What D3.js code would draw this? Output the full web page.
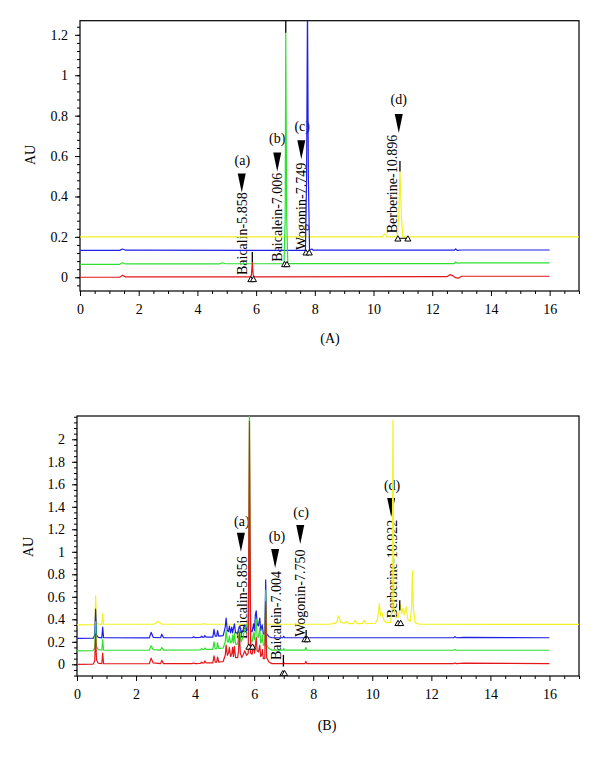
<!DOCTYPE html>
<html>
<head>
<meta charset="utf-8">
<script src="https://cdn.jsdelivr.net/npm/d3@7"></script>
<style>
  body { margin: 0; background: #fff; }
  svg { display: block; }
</style>
</head>
<body>
<div id="chart"></div>
<script>
// Colours of the four traces
const colors = { red: "#e4171b", green: "#2fe02f", blue: "#1f1fe6", yellow: "#f2f21f" };

// Axis ticks
const xTicks = [0, 2, 4, 6, 8, 10, 12, 14, 16];
const yTicksA = [0, 0.2, 0.4, 0.6, 0.8, 1, 1.2];
const yTicksB = [0, 0.2, 0.4, 0.6, 0.8, 1, 1.2, 1.4, 1.6, 1.8, 2];

// Panel (A) traces: [time (min), AU]
const redA = [[0,0],[1.35,0],[1.45,0.01],[1.55,0.002],[5.8,0.002],[5.84,0.01],[5.87,0.075],[5.9,0.01],[5.95,0.002],
  [12.5,0.003],[12.6,0.013],[12.7,0.008],[12.8,-0.002],[12.9,-0.004],[13,0.005],[16,0.005]];
const greenA = [[0,0.064],[1.35,0.064],[1.45,0.072],[1.55,0.066],[4.75,0.066],[4.85,0.072],[4.95,0.067],[6.95,0.067],
  [6.99,0.3],[7.01,1.21],[7.04,0.3],[7.08,0.068],[12.75,0.068],[12.8,0.076],[12.85,0.07],[13,0.071],[16,0.071]];
const blueA = [[0,0.133],[1.35,0.133],[1.45,0.14],[1.55,0.134],[7.68,0.133],[7.72,0.5],[7.75,1.35],[7.78,0.5],[7.82,0.134],
  [7.9,0.14],[7.95,0.134],[12.75,0.134],[12.8,0.14],[12.85,0.133],[13,0.135],[16,0.135]];
const yellowA = [[0,0.2],[10.3,0.2],[10.38,0.215],[10.45,0.2],[10.8,0.2],[10.86,0.3],[10.9,0.523],[10.95,0.3],[11,0.2],[17,0.2]];

// Panel (B) traces
const redB = [[0,0],[0.55,0.002],[0.6,0.03],[0.63,0.27],[0.66,0.04],[0.72,0.01],[0.84,0.005],[0.87,0.1],[0.9,0.006],
  [2.45,0.005],[2.51,0.055],[2.58,0.012],[2.83,0.006],[2.87,0.035],[2.93,0.006],
  [3.9,0.006],[3.95,0.012],[4,0.006],[4.18,0.008],[4.22,0.02],[4.26,0.01],[4.3,0.012],[4.33,0.03],[4.37,0.012],
  [4.6,0.012],[4.64,0.075],[4.68,0.02],[4.73,0.02],[4.76,0.065],[4.8,0.02],
  [4.95,0.025],[5.02,0.08],[5.05,0.17],[5.09,0.08],[5.13,0.1],[5.16,0.15],[5.2,0.07],[5.24,0.09],[5.27,0.15],[5.3,0.07],[5.33,0.16],[5.37,0.06],
  [5.44,0.06],[5.47,0.12],[5.5,0.28],[5.53,0.1],[5.58,0.06],[5.64,0.09],[5.68,0.12],[5.74,0.08],[5.8,0.1],[5.84,2.16],[5.88,0.1],
  [5.93,0.09],[5.98,0.17],[6.01,0.1],[6.04,0.16],[6.07,0.24],[6.1,0.12],[6.15,0.11],[6.19,0.17],[6.22,0.07],[6.25,0.08],[6.28,0.13],
  [6.31,0.05],[6.36,0.05],[6.39,0.556],[6.42,0.06],[6.5,0.02],[6.6,0.006],
  [6.97,0.006],[7,0.015],[7.03,0.006],[7.72,0.006],[7.75,0.025],[7.78,0.006],
  [12.75,0.006],[12.8,0.012],[12.85,0.006],[13.1,0.01],[16,0.006]];
const greenB = [[0,0.12],[0.55,0.122],[0.6,0.15],[0.63,0.38],[0.66,0.16],[0.72,0.13],[0.84,0.125],[0.87,0.22],[0.9,0.126],
  [2.45,0.125],[2.51,0.165],[2.58,0.13],[2.83,0.126],[2.87,0.15],[2.93,0.126],
  [4.18,0.128],[4.22,0.14],[4.26,0.13],[4.3,0.132],[4.33,0.145],[4.37,0.132],
  [4.6,0.132],[4.64,0.2],[4.68,0.14],[4.73,0.14],[4.76,0.19],[4.8,0.14],
  [4.95,0.145],[5.02,0.2],[5.05,0.3],[5.09,0.2],[5.13,0.2],[5.16,0.25],[5.2,0.19],[5.24,0.2],[5.27,0.26],[5.3,0.19],[5.33,0.28],[5.37,0.18],
  [5.44,0.18],[5.5,0.3],[5.56,0.2],[5.62,0.24],[5.7,0.33],[5.75,0.35],[5.8,0.3],[5.84,2.25],[5.88,0.22],
  [5.93,0.2],[5.98,0.28],[6.01,0.22],[6.04,0.3],[6.07,0.4],[6.1,0.25],[6.14,0.24],[6.19,0.32],[6.22,0.19],[6.25,0.2],[6.28,0.26],
  [6.31,0.17],[6.36,0.17],[6.39,0.66],[6.42,0.17],[6.5,0.14],[6.6,0.126],
  [6.97,0.126],[7,0.14],[7.03,0.126],[7.72,0.126],[7.75,0.15],[7.78,0.126],
  [12.75,0.125],[12.8,0.132],[12.85,0.125],[16,0.125]];
const blueB = [[0,0.23],[0.55,0.232],[0.6,0.26],[0.63,0.49],[0.66,0.26],[0.72,0.24],[0.84,0.235],[0.87,0.33],[0.9,0.236],
  [2.45,0.235],[2.51,0.284],[2.58,0.24],[2.83,0.236],[2.87,0.267],[2.93,0.236],
  [3.9,0.236],[3.95,0.245],[4,0.237],[4.18,0.238],[4.22,0.25],[4.26,0.24],[4.3,0.242],[4.33,0.255],[4.37,0.242],
  [4.6,0.242],[4.64,0.31],[4.68,0.25],[4.73,0.25],[4.76,0.3],[4.8,0.25],
  [4.95,0.255],[5.02,0.33],[5.05,0.41],[5.09,0.3],[5.13,0.29],[5.16,0.34],[5.2,0.28],[5.24,0.33],[5.27,0.28],[5.33,0.36],[5.37,0.28],
  [5.44,0.28],[5.5,0.34],[5.56,0.29],[5.62,0.3],[5.68,0.35],[5.74,0.3],[5.8,0.32],[5.84,1.2],[5.88,0.3],
  [5.93,0.29],[5.98,0.36],[6.01,0.3],[6.04,0.44],[6.07,0.476],[6.1,0.36],[6.14,0.34],[6.19,0.41],[6.22,0.3],[6.27,0.35],
  [6.31,0.27],[6.36,0.27],[6.39,0.75],[6.42,0.27],[6.5,0.245],[6.6,0.236],
  [6.97,0.236],[7,0.25],[7.03,0.236],[7.72,0.236],[7.75,0.245],[7.78,0.236],
  [12.75,0.236],[12.8,0.245],[12.85,0.236],[13.1,0.24],[16,0.236]];
const yellowB = [[0,0.35],[0.58,0.352],[0.61,0.37],[0.63,0.61],[0.66,0.37],[0.72,0.356],[0.84,0.355],[0.87,0.45],[0.9,0.356],
  [2.6,0.356],[2.68,0.37],[2.74,0.38],[2.8,0.368],[2.88,0.357],[4.25,0.356],[4.3,0.362],[4.35,0.356],
  [8.5,0.356],[8.65,0.36],[8.7,0.37],[8.75,0.362],[8.8,0.38],[8.86,0.43],[8.93,0.375],[9.05,0.365],[9.14,0.38],[9.2,0.362],
  [9.35,0.362],[9.42,0.39],[9.48,0.362],[9.66,0.362],[9.73,0.39],[9.79,0.362],[10.1,0.365],[10.18,0.4],[10.24,0.54],[10.28,0.43],
  [10.33,0.46],[10.38,0.4],[10.43,0.38],[10.5,0.37],[10.62,0.37],[10.67,0.5],[10.7,2.17],[10.73,0.5],[10.8,0.42],[10.88,0.42],
  [10.95,0.53],[10.99,0.45],[11.04,0.5],[11.08,0.44],[11.15,0.51],[11.2,0.4],[11.28,0.38],[11.33,0.5],[11.36,0.83],[11.39,0.5],
  [11.45,0.37],[11.6,0.356],[17,0.355]];

// Peak labels: tag, text, text x, text bottom, arrow x, arrow tip, tag x, tag centre
const peaksA = [
  { tag: "(a)", text: "Baicalin-5.858",   tx: 5.51,  ty: 0.011, ax: 5.51,  ay: 0.419, gx: 5.53,  gy: 0.581 },
  { tag: "(b)", text: "Baicalein-7.006",  tx: 6.72,  ty: 0.077, ax: 6.72,  ay: 0.523, gx: 6.72,  gy: 0.691 },
  { tag: "(c)", text: "Wogonin-7.749",    tx: 7.52,  ty: 0.135, ax: 7.54,  ay: 0.584, gx: 7.57,  gy: 0.749 },
  { tag: "(d)", text: "Berberine-10.896", tx: 10.63, ty: 0.218, ax: 10.86, ay: 0.714, gx: 10.86, gy: 0.881 }
];
const peaksB = [
  { tag: "(a)", text: "Baicalin-5.856",   tx: 5.58,  ty: 0.225, ax: 5.55,  ay: 1.0,   gx: 5.58,  gy: 1.27 },
  { tag: "(b)", text: "Baicalein-7.004",  tx: 6.75,  ty: 0.038, ax: 6.71,  ay: 0.856, gx: 6.77,  gy: 1.14 },
  { tag: "(c)", text: "Wogonin-7.750",    tx: 7.54,  ty: 0.245, ax: 7.56,  ay: 1.07,  gx: 7.59,  gy: 1.356 },
  { tag: "(d)", text: "Berberine-10.922", tx: 10.67, ty: 0.41,  ax: 10.64, ay: 1.31,  gx: 10.67, gy: 1.594 }
];

// Integration marks: apex lines [t, v0, v1] and baseline triangles [t1, t2, v]
const apexA = [[5.87, 0.075, 0.125], [7.01, 1.21, 1.27], [10.9, 0.523, 0.576]];
const baseA = [[5.82, 5.91, -0.013], [6.97, 7.05, 0.061], [7.7, 7.81, 0.119], [10.83, 11.17, 0.188]];
const apexB = [[6.99, -0.02, 0.083], [7.76, 0.231, 0.305], [10.93, 0.48, 0.57]];
const baseB = [[5.82, 5.94, 0.15], [6.97, 7.03, -0.086], [7.72, 7.8, 0.216], [10.87, 10.96, 0.36]];

const W = 600, H = 783;
const font = "'Liberation Serif', 'Times New Roman', serif";

const svg = d3.select("#chart").append("svg")
  .attr("width", W).attr("height", H)
  .style("background", "#fff");

function drawPanel(p) {
  const x = d3.scaleLinear().domain([0, 17]).range(p.xr);
  const y = d3.scaleLinear().domain(p.yd).range(p.yr);
  const g = svg.append("g");

  const clipId = "clip" + p.id;
  g.append("clipPath").attr("id", clipId)
    .append("rect")
    .attr("x", p.xr[0]).attr("y", p.yr[1])
    .attr("width", p.xr[1] - p.xr[0]).attr("height", p.yr[0] - p.yr[1]);

  // Frame (top + right)
  g.append("rect")
    .attr("x", p.xr[0]).attr("y", p.yr[1])
    .attr("width", p.xr[1] - p.xr[0]).attr("height", p.yr[0] - p.yr[1])
    .attr("fill", "none").attr("stroke", "#000").attr("stroke-width", 1.2);

  const fmt = d => d3.format("~g")(d);

  // X axis
  const xMinor = d3.range(0, 17.01, 0.5).filter(v => v % 2 !== 0);
  g.append("g").attr("transform", `translate(0,${p.yr[0]})`)
    .call(d3.axisBottom(x).tickValues(xMinor).tickSize(3).tickSizeOuter(0).tickFormat(""))
    .call(s => s.select(".domain").remove());
  g.append("g").attr("transform", `translate(0,${p.yr[0]})`)
    .call(d3.axisBottom(x).tickValues(xTicks).tickSize(5).tickPadding(8).tickSizeOuter(0).tickFormat(fmt))
    .call(s => s.select(".domain").remove())
    .call(s => s.selectAll("text").attr("font-family", font).attr("font-size", 14).attr("fill", "#000"));

  // Y axis
  const yMinorAll = d3.range(Math.ceil(p.yd[0] / p.yMinorStep), Math.floor(p.yd[1] / p.yMinorStep) + 1)
    .map(i => +(i * p.yMinorStep).toFixed(3));
  g.append("g").attr("transform", `translate(${p.xr[0]},0)`)
    .call(d3.axisLeft(y).tickValues(yMinorAll).tickSize(3).tickSizeOuter(0).tickFormat(""))
    .call(s => s.select(".domain").remove());
  g.append("g").attr("transform", `translate(${p.xr[0]},0)`)
    .call(d3.axisLeft(y).tickValues(p.yTicks).tickSize(5).tickPadding(7).tickSizeOuter(0).tickFormat(fmt))
    .call(s => s.select(".domain").remove())
    .call(s => s.selectAll("text").attr("font-family", font).attr("font-size", 14).attr("fill", "#000"));

  // AU label
  g.append("text")
    .attr("transform", `translate(${p.auX},${p.auY}) rotate(-90)`)
    .attr("text-anchor", "middle").attr("dy", "0.35em")
    .attr("font-family", font).attr("font-size", 14)
    .text("AU");

  // Panel caption
  g.append("text")
    .attr("x", p.capX).attr("y", p.capY)
    .attr("text-anchor", "middle").attr("dy", "0.35em")
    .attr("font-family", font).attr("font-size", 14)
    .text(p.caption);

  // Peak annotations (under the traces)
  const ann = g.append("g");
  p.peaks.forEach(d => {
    ann.append("text")
      .attr("transform", `translate(${x(d.tx)},${y(d.ty)}) rotate(-90)`)
      .attr("dy", "0.35em")
      .attr("font-family", font).attr("font-size", 14)
      .text(d.text);
    const ax = x(d.ax), ay = y(d.ay);
    ann.append("path")
      .attr("d", `M${ax - 4},${ay - 19}L${ax + 4},${ay - 19}L${ax},${ay}Z`)
      .attr("fill", "#000");
    ann.append("text")
      .attr("x", x(d.gx)).attr("y", y(d.gy))
      .attr("text-anchor", "middle").attr("dy", "0.35em")
      .attr("font-family", font).attr("font-size", 14)
      .text(d.tag);
  });

  // Traces
  const line = d3.line().x(d => x(d[0])).y(d => y(d[1]));
  const traces = g.append("g").attr("clip-path", `url(#${clipId})`);
  p.series.forEach(s => {
    traces.append("path")
      .datum(s.data)
      .attr("fill", "none")
      .attr("stroke", s.color)
      .attr("stroke-width", 1.2)
      .attr("stroke-linejoin", "round")
      .attr("d", line);
  });

  // Integration marks
  const marks = g.append("g").attr("clip-path", `url(#${clipId})`);
  p.apex.forEach(d => {
    marks.append("line")
      .attr("x1", x(d[0])).attr("x2", x(d[0]))
      .attr("y1", y(d[1])).attr("y2", y(d[2]))
      .attr("stroke", "#000").attr("stroke-width", 1.3);
  });
  const tri = d3.symbol(d3.symbolTriangle).size(16);
  p.base.forEach(d => {
    marks.append("line")
      .attr("x1", x(d[0])).attr("x2", x(d[1]))
      .attr("y1", y(d[2]) - 1).attr("y2", y(d[2]) - 1)
      .attr("stroke", "#000").attr("stroke-width", 1);
    [d[0], d[1]].forEach(t => {
      marks.append("path")
        .attr("d", tri())
        .attr("transform", `translate(${x(t)},${y(d[2])})`)
        .attr("fill", "#fff").attr("stroke", "#000").attr("stroke-width", 1);
    });
  });
}

drawPanel({
  id: "A", xr: [80, 579], yd: [-0.068, 1.27], yr: [291, 20.7],
  yTicks: yTicksA, yMinorStep: 0.04,
  auX: 30, auY: 155, capX: 330, capY: 338, caption: "(A)",
  series: [
    { color: colors.yellow, data: yellowA },
    { color: colors.blue, data: blueA },
    { color: colors.green, data: greenA },
    { color: colors.red, data: redA }
  ],
  peaks: peaksA, apex: apexA, base: baseA
});

drawPanel({
  id: "B", xr: [77, 579], yd: [-0.104, 2.207], yr: [676, 416],
  yTicks: yTicksB, yMinorStep: 0.05,
  auX: 28, auY: 547, capX: 327, capY: 725, caption: "(B)",
  series: [
    { color: colors.yellow, data: yellowB },
    { color: colors.blue, data: blueB },
    { color: colors.green, data: greenB },
    { color: colors.red, data: redB }
  ],
  peaks: peaksB, apex: apexB, base: baseB
});
</script>
</body>
</html>
